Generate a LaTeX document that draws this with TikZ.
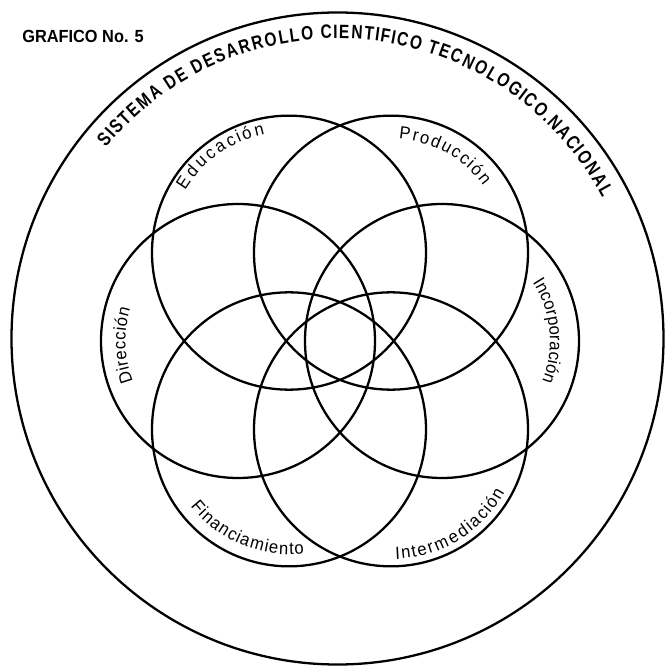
\documentclass[tikz,border=0pt]{standalone}
\usepackage{fontspec}
\usetikzlibrary{decorations.text}
\newfontfamily\titlefont[FakeStretch=0.8]{Liberation Sans}
\newfontfamily\headfont[FakeStretch=0.93]{Liberation Sans}
\newfontfamily\lblfont[FakeStretch=0.95]{Liberation Sans}

\tikzset{
  ring/.style={line width=1.3pt},
  curved label/.style 2 args={decorate, decoration={text effects along path, text={#2},
    text effects/.cd, fit text to path, characters={text along path, inner sep=0pt, outer sep=0pt, font=#1}}}
}

\begin{document}
\begin{tikzpicture}
  \useasboundingbox (-6.75,-6.57) rectangle (6.55,6.77);
  % centres of the six sub-systems
  \coordinate (ctr) at (0.05,-0.05);
  \coordinate (inc) at ([shift={(0:2.04)}]ctr);
  \coordinate (prod) at ([shift={(60:2.04)}]ctr);
  \coordinate (edu) at ([shift={(120:2.04)}]ctr);
  \coordinate (dir) at ([shift={(180:2.04)}]ctr);
  \coordinate (fin) at ([shift={(240:2.04)}]ctr);
  \coordinate (inter) at ([shift={(300:2.04)}]ctr);

  \node[anchor=base west, inner sep=0, font=\headfont\bfseries\fontsize{10}{12}\selectfont] (grafico) at (-6.31,5.91) {GRAFICO No. 5};

  \draw[ring] (0,0) circle (6.52);
  \foreach \c in {inc,prod,edu,dir,fin,inter}
    \draw[ring] (\c) circle (2.74);

  \path[curved label={\titlefont\bfseries\fontsize{11}{13}\selectfont}{SISTEMA DE DESARROLLO CIENTIFICO TECNOLOGICO.NACIONAL}]
    (140.5:6.0) arc[start angle=140.5, end angle=28, radius=6.0];

  % labels inside the circles
  \path[curved label={\lblfont\fontsize{10}{12}\selectfont}{Educación}]
    ([shift={(149:2.42)}]edu) arc[start angle=149, end angle=101.5, radius=2.42];
  \path[curved label={\lblfont\fontsize{10}{12}\selectfont}{Producción}]
    ([shift={(86:2.28)}]prod) arc[start angle=86, end angle=36, radius=2.28];
  \path[curved label={\lblfont\fontsize{10}{12}\selectfont}{Incorporación}]
    ([shift={(33:2.16)}]inc) arc[start angle=33, end angle=-22, radius=2.16];
  \path[curved label={\lblfont\fontsize{10}{12}\selectfont}{Dirección}]
    ([shift={(201:2.25)}]dir) arc[start angle=201, end angle=163, radius=2.25];
  \path[curved label={\lblfont\fontsize{10}{12}\selectfont}{Financiamiento}]
    ([shift={(218:2.5)}]fin) arc[start angle=218, end angle=277, radius=2.5];
  \path[curved label={\lblfont\fontsize{10}{12}\selectfont}{Intermediación}]
    ([shift={(272:2.6)}]inter) arc[start angle=272, end angle=331, radius=2.6];
\end{tikzpicture}
\end{document}
